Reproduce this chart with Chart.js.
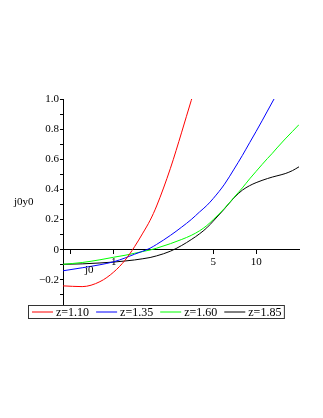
<!DOCTYPE html>
<html>
<head>
<meta charset="utf-8">
<script src="https://cdn.jsdelivr.net/npm/chart.js@4/dist/chart.umd.min.js"></script>
<style>
  html, body { margin: 0; padding: 0; background: #fff; }
  #wrap { width: 323px; height: 418px; }
</style>
</head>
<body>
<div id="wrap"><canvas id="chart" width="323" height="418"></canvas></div>
<script>
// sample positions (x is on a log axis)
const xValues = [0.44, 0.6, 0.8, 1.0, 1.2, 1.4, 1.6, 1.8, 2.0, 2.5, 3.0, 3.5, 4, 4.5, 5, 6, 7, 8, 9, 10, 11, 12, 13, 14, 16, 18, 20]

const seriesNames = ['z=1.10', 'z=1.35', 'z=1.60', 'z=1.85']
const seriesColors = ['#ff0000', '#0000ff', '#00ff00', '#000000']

const z110 = [-0.24, -0.245, -0.212, -0.148, -0.07, 0.02, 0.11, 0.195, 0.29, 0.54, 0.78, 0.99, 1.16, null, null, null, null, null, null, null, null, null, null, null, null, null, null]
const z135 = [-0.14, -0.12, -0.10, -0.08, -0.055, -0.03, -0.01, 0.01, 0.035, 0.095, 0.15, 0.2, 0.25, 0.293, 0.34, 0.435, 0.535, 0.625, 0.71, 0.785, 0.855, 0.92, 0.98, 1.035, null, null, null]
const z160 = [-0.097, -0.085, -0.067, -0.05, -0.037, -0.024, -0.012, -0.002, 0.01, 0.04, 0.068, 0.095, 0.125, 0.16, 0.2, 0.275, 0.348, 0.41, 0.47, 0.52, 0.565, 0.605, 0.64, 0.675, 0.735, 0.785, 0.83]
const z185 = [-0.097, -0.094, -0.088, -0.082, -0.075, -0.068, -0.06, -0.052, -0.041, -0.01, 0.028, 0.067, 0.105, 0.145, 0.19, 0.272, 0.345, 0.395, 0.425, 0.445, 0.46, 0.472, 0.482, 0.49, 0.505, 0.525, 0.55]

const xTicks = [0.5, 1, 5, 10]
const yTicks = [-0.3, -0.2, -0.1, 0, 0.1, 0.2, 0.3, 0.4, 0.5, 0.6, 0.7, 0.8, 0.9, 1.0]
const yTickLabels = {'-0.2': '\u22120.2', '0': '0', '0.2': '0.2', '0.4': '0.4', '0.6': '0.6', '0.8': '0.8', '1': '1.0'}

const xTitle = 'j0'
const yTitle = 'j0y0'

const serif = '"Liberation Serif", "Times New Roman", serif'

const toPoints = ys => xValues.map((x, i) => ({x: x, y: ys[i]}))

const extras = {
  id: 'extras',
  afterDraw(chart) {
    const ctx = chart.ctx
    const area = chart.chartArea
    ctx.save()
    ctx.fillStyle = '#000'
    ctx.textBaseline = 'middle'
    ctx.font = '11px ' + serif
    ctx.fillText(yTitle, 14, (area.top + area.bottom) / 2)
    ctx.fillText(xTitle, 85, chart.scales.y.getPixelForValue(0) + 20)

    // boxed legend under the plot
    ctx.font = '12px ' + serif
    const top = area.bottom + 0.5
    const h = 13
    const mid = top + h / 2
    let x = 32
    chart.data.datasets.forEach(ds => {
      ctx.strokeStyle = ds.borderColor
      ctx.lineWidth = 1
      ctx.beginPath()
      ctx.moveTo(x, mid)
      ctx.lineTo(x + 21, mid)
      ctx.stroke()
      x += 24
      ctx.fillText(ds.label, x, mid + 0.5)
      x += ctx.measureText(ds.label).width + 7
    })
    ctx.strokeStyle = '#333'
    ctx.strokeRect(28.5, top, x - 7 + 3 - 28.5, h)
    ctx.restore()
  }
}

new Chart('chart', {
  type: 'line',
  data: {
    datasets: [z110, z135, z160, z185].map((ys, i) => ({
      label: seriesNames[i],
      data: toPoints(ys),
      borderColor: seriesColors[i],
      backgroundColor: seriesColors[i],
      borderWidth: 1,
      pointRadius: 0,
      cubicInterpolationMode: 'monotone'
    }))
  },
  options: {
    responsive: false,
    animation: false,
    layout: {padding: {left: 33, right: 24, top: 99, bottom: 113}},
    plugins: {legend: {display: false}, tooltip: {enabled: false}},
    scales: {
      x: {
        type: 'logarithmic',
        position: {y: 0},
        min: 0.44,
        max: 20,
        afterBuildTicks: scale => { scale.ticks = xTicks.map(v => ({value: v})) },
        ticks: {
          autoSkip: false,
          maxRotation: 0,
          padding: 2,
          color: '#000',
          font: {family: serif, size: 11},
          callback: v => (v === 0.5 ? '' : String(v))
        },
        grid: {drawOnChartArea: false, tickLength: 4, color: '#000'},
        border: {color: '#000'}
      },
      y: {
        type: 'linear',
        min: -0.367,
        max: 1.0,
        afterBuildTicks: scale => { scale.ticks = yTicks.map(v => ({value: v})) },
        afterFit: scale => { scale.width = 30 },
        ticks: {
          autoSkip: false,
          padding: 1,
          color: '#000',
          font: {family: serif, size: 11},
          callback: v => yTickLabels[String(Math.round(v * 10) / 10)] || ''
        },
        grid: {drawOnChartArea: false, tickLength: 3, color: '#000'},
        border: {color: '#000'}
      }
    }
  },
  plugins: [extras]
})
</script>
</body>
</html>
